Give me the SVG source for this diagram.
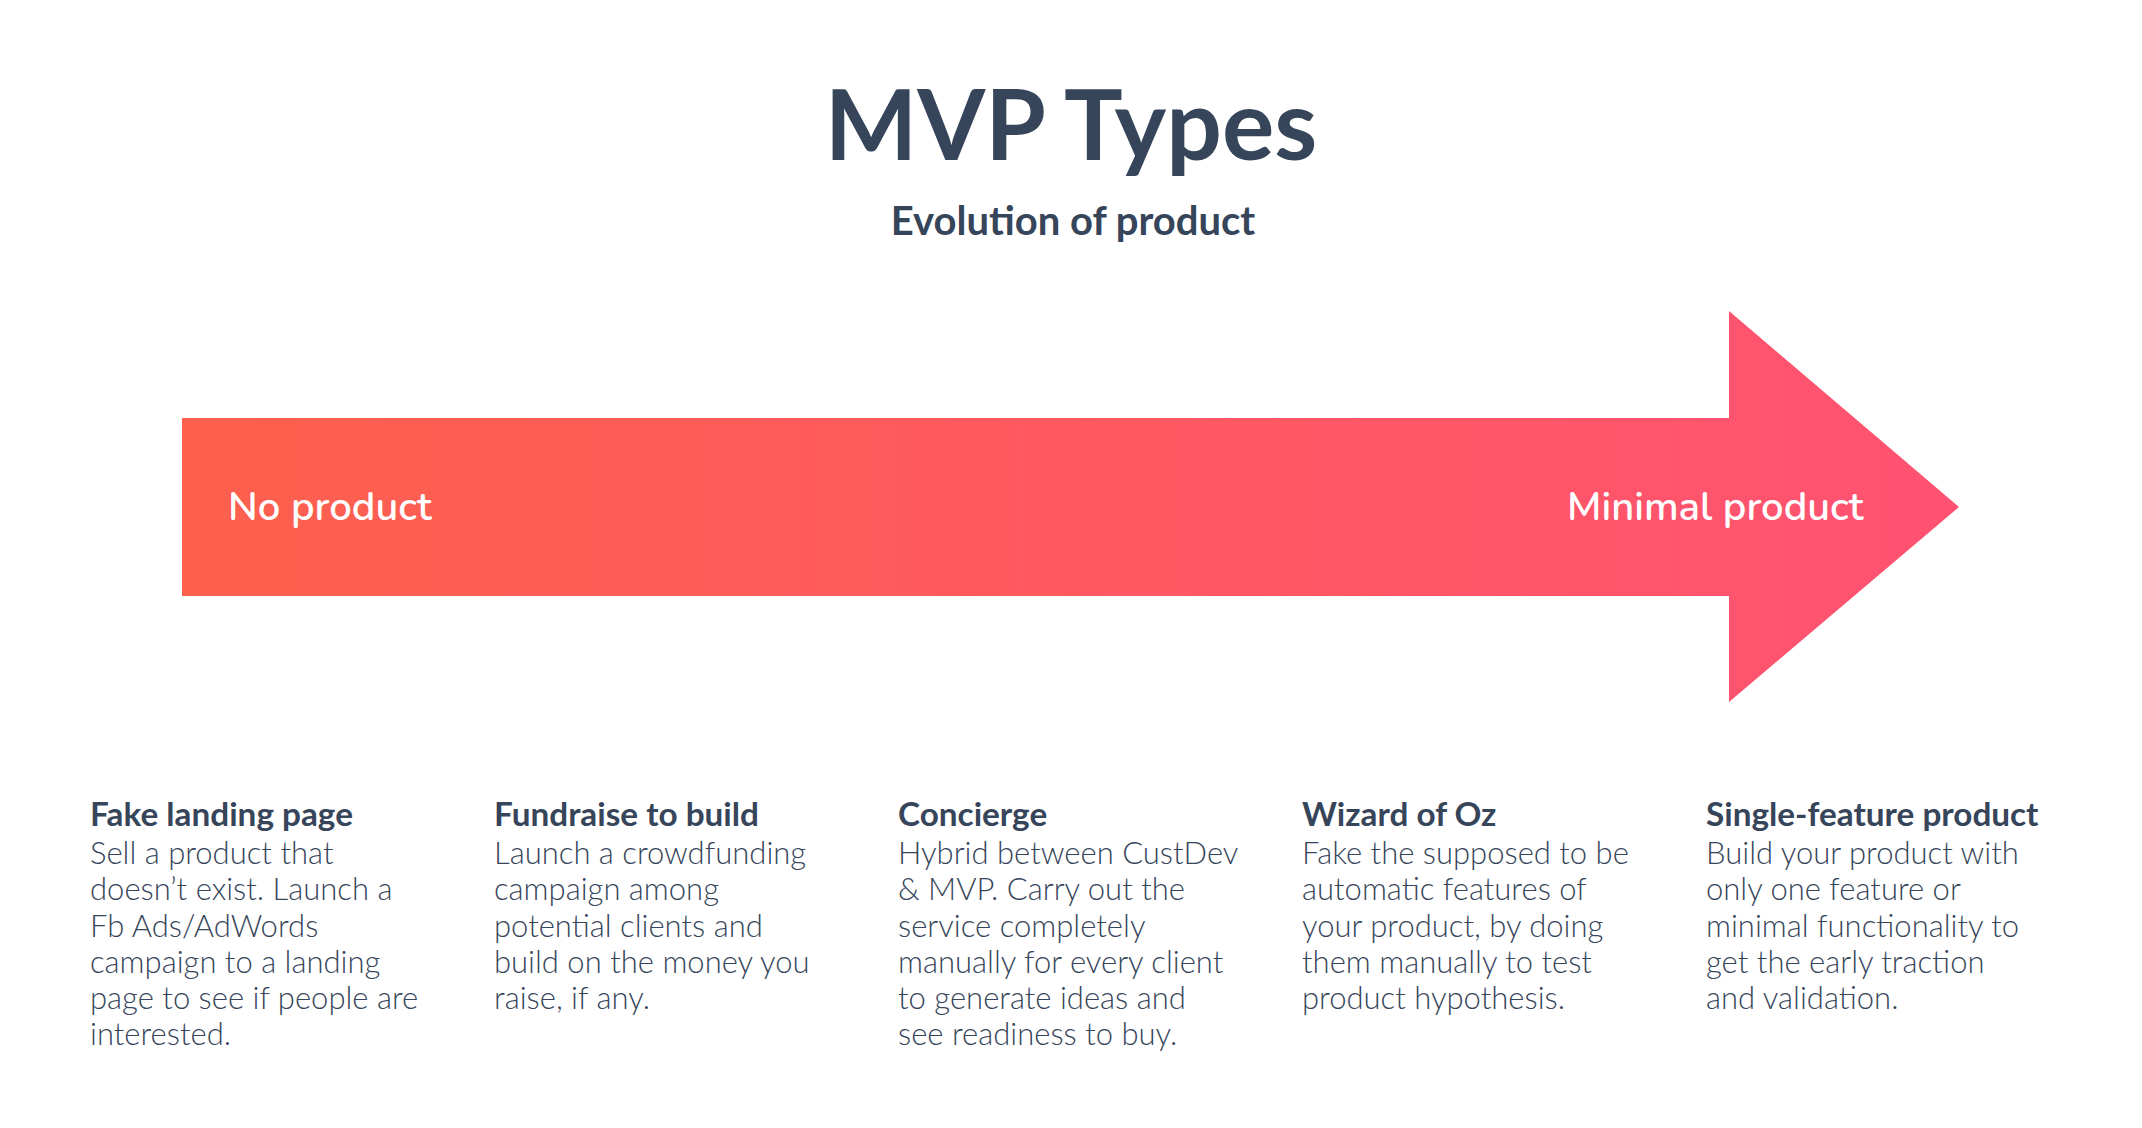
<svg xmlns="http://www.w3.org/2000/svg" width="2142" height="1128" viewBox="0 0 2142 1128">
<defs>
<linearGradient id="g" x1="182" y1="0" x2="1959" y2="0" gradientUnits="userSpaceOnUse">
<stop offset="0" stop-color="#FD604D"/>
<stop offset="1" stop-color="#FF5272"/>
</linearGradient>
<style>
.t{font-family:Lato,"Liberation Sans",sans-serif;fill:#36455A}
.title{font-size:98px;font-weight:700}
.sub{font-size:40px;font-weight:700}
.lab{font-family:"Nunito","Noto Sans",Lato,sans-serif;font-size:40px;fill:#fff;font-weight:600}
.h{font-size:33.3px;font-weight:700}
.b{font-size:31px;font-weight:300}
</style>
</defs>
<rect width="2142" height="1128" fill="#fff"/>
<g id="title">
<text class="t title" x="1071" y="160" text-anchor="middle">MVP Types</text>
<text class="t sub" x="1073" y="235" text-anchor="middle">Evolution of product</text>
</g>
<g id="arrow">
<polygon points="182,418 1729,418 1729,311 1959,507 1729,702 1729,596 182,596" fill="url(#g)"/>
<text class="lab" x="228" y="520">No product</text>
<text class="lab" x="1567" y="520">Minimal product</text>
</g>
<g id="fake-landing-page">
<text class="t h" x="90" y="826">Fake landing page</text>
<text class="t b" x="90"><tspan x="90" y="864">Sell a product that</tspan><tspan x="90" y="900">doesn’t exist. Launch a</tspan><tspan x="90" y="937">Fb Ads/AdWords</tspan><tspan x="90" y="973">campaign to a landing</tspan><tspan x="90" y="1009">page to see if people are</tspan><tspan x="90" y="1045">interested.</tspan></text>
</g>
<g id="fundraise-to-build">
<text class="t h" x="494" y="826">Fundraise to build</text>
<text class="t b"><tspan x="494" y="864">Launch a crowdfunding</tspan><tspan x="494" y="900">campaign among</tspan><tspan x="494" y="937">potential clients and</tspan><tspan x="494" y="973">build on the money you</tspan><tspan x="494" y="1009">raise, if any.</tspan></text>
</g>
<g id="concierge">
<text class="t h" x="898" y="826">Concierge</text>
<text class="t b"><tspan x="898" y="864">Hybrid between CustDev</tspan><tspan x="898" y="900">&amp; MVP. Carry out the</tspan><tspan x="898" y="937">service completely</tspan><tspan x="898" y="973">manually for every client</tspan><tspan x="898" y="1009">to generate ideas and</tspan><tspan x="898" y="1045">see readiness to buy.</tspan></text>
</g>
<g id="wizard-of-oz">
<text class="t h" x="1302" y="826">Wizard of Oz</text>
<text class="t b"><tspan x="1302" y="864">Fake the supposed to be</tspan><tspan x="1302" y="900">automatic features of</tspan><tspan x="1302" y="937">your product, by doing</tspan><tspan x="1302" y="973">them manually to test</tspan><tspan x="1302" y="1009">product hypothesis.</tspan></text>
</g>
<g id="single-feature-product">
<text class="t h" x="1706" y="826">Single-feature product</text>
<text class="t b"><tspan x="1706" y="864">Build your product with</tspan><tspan x="1706" y="900">only one feature or</tspan><tspan x="1706" y="937">minimal functionality to</tspan><tspan x="1706" y="973">get the early traction</tspan><tspan x="1706" y="1009">and validation.</tspan></text>
</g>
</svg>
